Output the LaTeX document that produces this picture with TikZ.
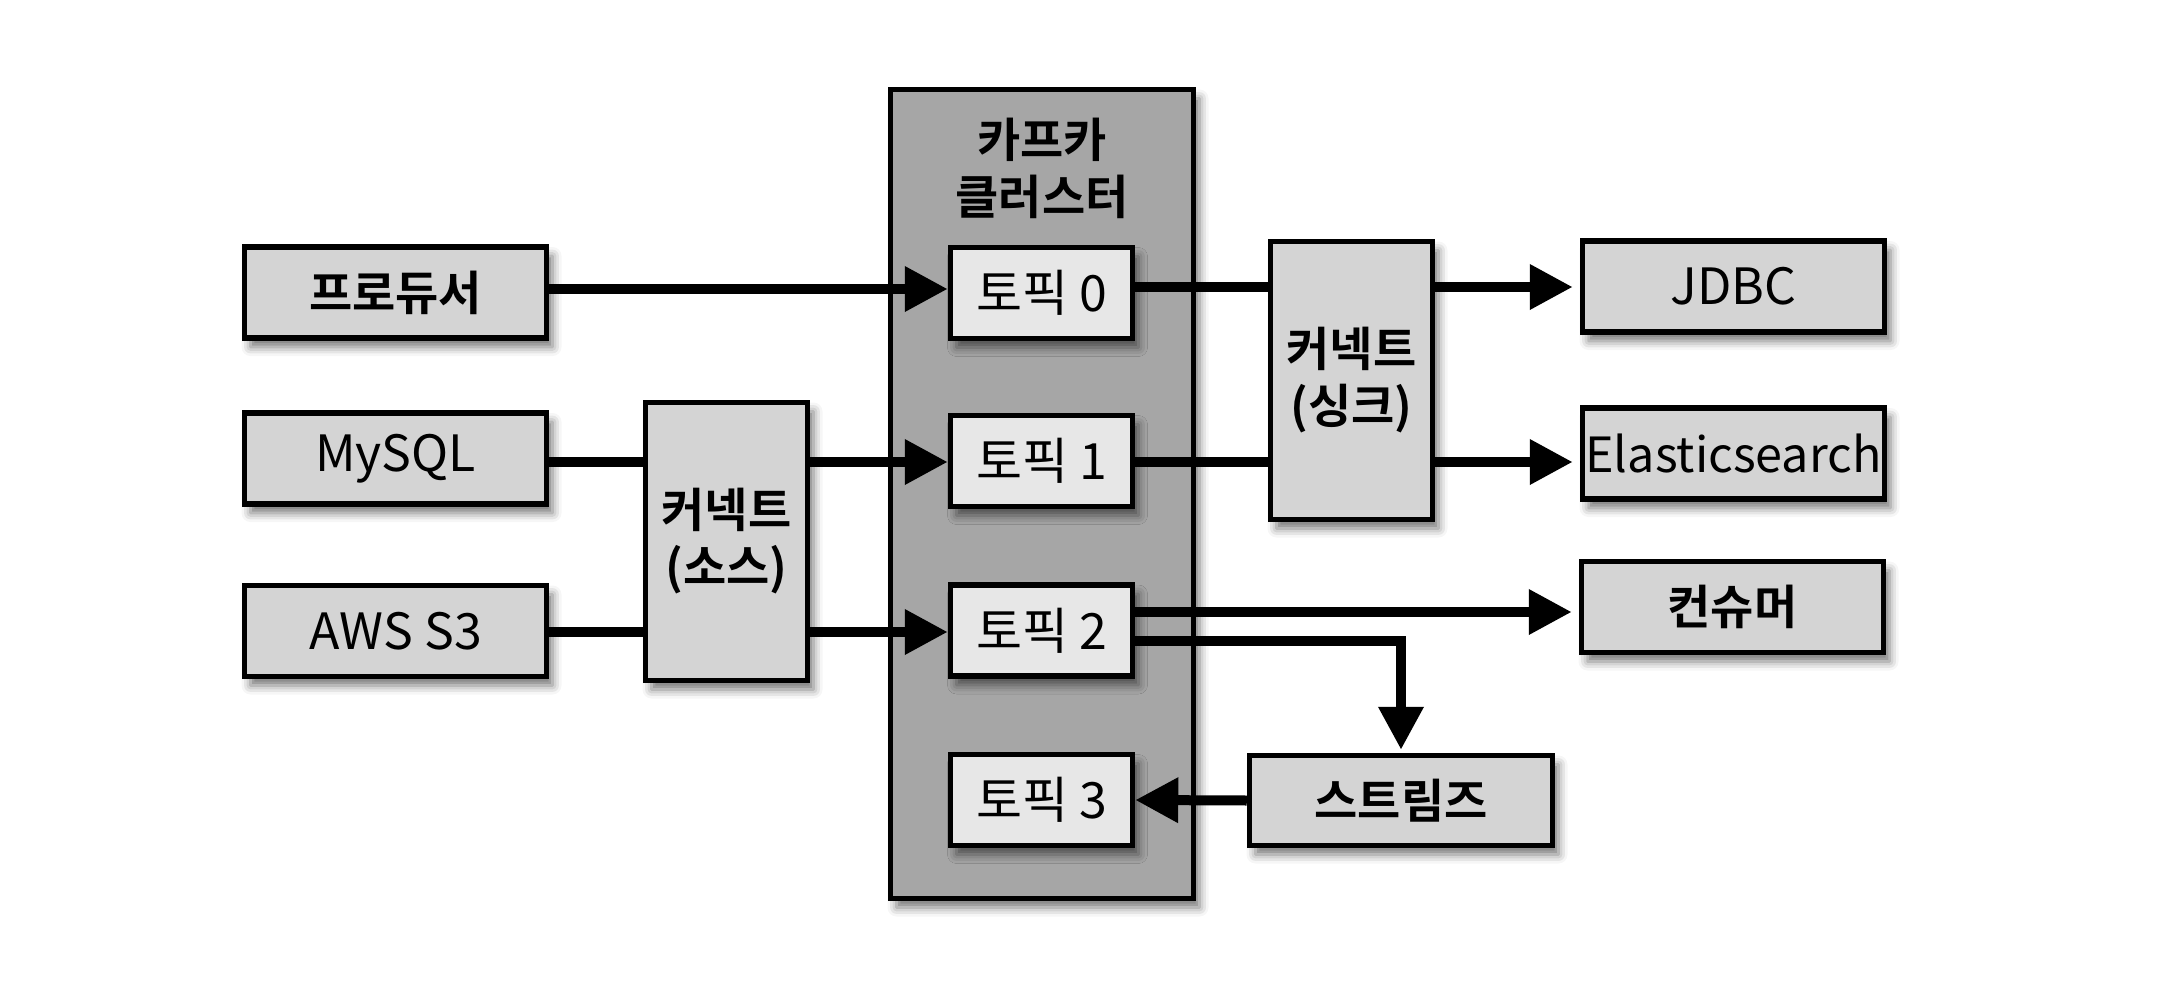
\documentclass[tikz,border=0pt]{standalone}
\usepackage{fontspec}
\setmainfont{Noto Sans CJK KR}[BoldFont={Noto Sans CJK KR Bold}]
\usetikzlibrary{arrows.meta,shadows.blur}
\definecolor{boxgray}{HTML}{D4D4D4}
\definecolor{topicgray}{HTML}{E7E7E7}
\definecolor{clustergray}{HTML}{A6A6A6}
\tikzset{
  shad/.style={blur shadow={shadow xshift=6pt, shadow yshift=-9pt, shadow blur radius=9pt, shadow opacity=55}},
  box/.style={draw, line width=5.5pt, fill=boxgray, inner sep=0pt, align=center, shad,
    font=\fontsize{50pt}{57pt}\selectfont},
  boldtext/.style={font=\fontsize{47pt}{57pt}\selectfont\bfseries},
  small/.style={box, minimum width=302pt, minimum height=91pt},
  tall/.style={box, minimum width=162pt, minimum height=278pt, boldtext},
  topic/.style={box, fill=topicgray, minimum width=182pt, minimum height=91pt},
  conn/.style={line width=10pt},
  arr/.style={conn, -{Triangle[length=43pt, width=43pt]}},
  arrg/.style={arr, shorten >=7pt}
}
\begin{document}
\begin{tikzpicture}[x=1pt, y=-1pt]
\useasboundingbox (0,0) rectangle (2164,990);
% cluster
\node[box, fill=clustergray, minimum width=303pt, minimum height=809pt] (cluster) at (1042,494) {};
\node[boldtext, align=center, inner sep=0pt] (ctitle) at (1042,168) {카프카\\클러스터};
% topics
\node[topic] (t0) at (1041.5,293) {토픽 0};
\node[topic] (t1) at (1041.5,461) {토픽 1};
\node[topic] (t2) at (1041.5,630.5) {토픽 2};
\node[topic] (t3) at (1041.5,800) {토픽 3};
% left
\node[small, boldtext] (prod) at (395.5,292.5) {프로듀서};
\node[small] (mysql) at (395.5,458.5) {MySQL};
\node[small] (aws) at (395.5,631) {AWS S3};
\node[tall] (src) at (726.5,541.5) {커넥트\\(소스)};
% right
\node[tall] (sink) at (1351.5,380.5) {커넥트\\(싱크)};
\node[small] (jdbc) at (1733.5,286.5) {JDBC};
\node[small, font=\fontsize{48.5pt}{57pt}\selectfont] (elastic) at (1733.5,453.5) {Elasticsearch};
\node[small, boldtext] (cons) at (1732.5,607) {컨슈머};
\node[small, minimum width=303pt, minimum height=90pt, boldtext] (streams) at (1401,800.5) {스트림즈};
% connectors
\draw[arr] (prod.east |- 0,289) -- (t0.west |- 0,289);
\draw[conn] (t0.east |- 0,287) -- (sink.west |- 0,287);
\draw[arrg] (sink.east |- 0,287) -- (jdbc.west |- 0,287);
\draw[conn] (mysql.east |- 0,462) -- (src.west |- 0,462);
\draw[arr] (src.east |- 0,462) -- (t1.west |- 0,462);
\draw[conn] (aws.east |- 0,632) -- (src.west |- 0,632);
\draw[arr] (src.east |- 0,632) -- (t2.west |- 0,632);
\draw[conn] (t1.east |- 0,462) -- (sink.west |- 0,462);
\draw[arrg] (sink.east |- 0,462) -- (elastic.west |- 0,462);
\draw[arrg] (t2.east |- 0,612) -- (cons.west |- 0,612);
\draw[arr, shorten >=3pt] (t2.east |- 0,641) -| (streams.north);
\draw[arr] (streams.west) -- (t3.east);
\end{tikzpicture}
\end{document}
